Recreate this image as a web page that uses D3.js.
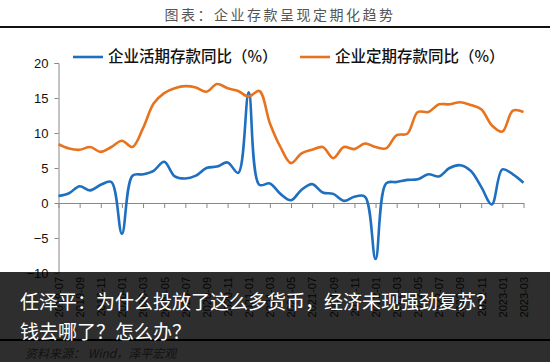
<!DOCTYPE html>
<html>
<head>
<meta charset="utf-8">
<script src="https://cdn.jsdelivr.net/npm/d3@7"></script>
<style>
  body { margin: 0; background: #fff; }
  svg { display: block; }
</style>
</head>
<body>
<svg id="chart" width="550" height="362"></svg>
<script>
// monthly, 2019-07 .. 2023-03
const months = d3.range(45).map(i => {
  const m = 6 + i; // 0-based month from 2019-01
  const y = 2019 + Math.floor(m / 12);
  return `${y}-${String((m % 12) + 1).padStart(2, "0")}`;
});

const demand = [1.0, 1.4, 2.4, 1.8, 2.6, 3.0, -4.4, 3.9, 4.1, 4.6,
  5.9, 3.8, 3.5, 3.9, 5.0, 5.2, 5.8, 4.3, 15.8, 2.6,
  2.8, 1.3, 0.4, 1.9, 2.7, 1.5, 1.3, 0.3, 0.9, 0.9,
  -8.0, 2.8, 3.0, 3.3, 3.4, 4.1, 3.8, 5.0, 5.4, 4.6,
  2.3, -0.2, 4.8, 4.1, 2.9];

const timeDep = [8.4, 7.8, 7.6, 8.0, 7.3, 8.0, 8.9, 8.0, 10.7, 14.2,
  15.7, 16.4, 16.7, 16.5, 15.9, 17.0, 16.4, 16.0, 15.2, 16.0,
  11.4, 8.0, 5.7, 7.1, 7.6, 8.0, 6.4, 8.0, 7.7, 8.5,
  8.0, 7.8, 9.7, 9.9, 13.0, 13.0, 14.1, 14.1, 14.4, 14.0,
  13.4, 11.1, 10.2, 13.2, 13.0];

const yTicks = [-10, -5, 0, 5, 10, 15, 20];
const seriesNames = ["企业活期存款同比（%）", "企业定期存款同比（%）"];
const colors = ["#1f6fc0", "#e8731e"];

const svg = d3.select("#chart");

const x = d3.scaleLinear().domain([0, months.length - 1]).range([58.5, 523.5]);
const y = d3.scaleLinear().domain([-10, 20]).range([273, 63]);

// title
svg.append("text")
  .attr("x", 280).attr("y", 20)
  .attr("text-anchor", "middle")
  .attr("font-family", "Noto Sans CJK SC")
  .attr("font-size", 14)
  .attr("letter-spacing", 2.5)
  .attr("fill", "#555")
  .text("图表：企业存款呈现定期化趋势");

svg.append("line")
  .attr("x1", 0).attr("x2", 550).attr("y1", 27).attr("y2", 27)
  .attr("stroke", "#111").attr("stroke-width", 2);

// y axis
const yAxis = svg.append("g")
  .attr("transform", `translate(${x(0)},0)`)
  .call(d3.axisLeft(y).tickValues(yTicks).tickSize(4).tickPadding(6));
yAxis.select(".domain").attr("stroke", "#888");
yAxis.selectAll(".tick line").attr("stroke", "#888");
yAxis.selectAll("text")
  .attr("font-family", "Liberation Sans, Arial")
  .attr("font-size", 13)
  .attr("fill", "#111");

// x axis at zero
const xAxis = svg.append("g")
  .attr("transform", `translate(0,${y(0)})`)
  .call(d3.axisBottom(x)
    .tickValues(d3.range(0, months.length, 2))
    .tickFormat(i => months[i])
    .tickSize(5)
    .tickSizeOuter(0));
xAxis.select(".domain").attr("stroke", "#888");
xAxis.selectAll(".tick line").attr("stroke", "#888");
xAxis.selectAll("text")
  .attr("font-family", "Liberation Sans, Arial")
  .attr("font-size", 11)
  .attr("fill", "#222")
  .attr("text-anchor", "end")
  .attr("transform", `translate(0,${y(-10) - y(0) + 4}) rotate(-90)`)
  .attr("x", 0).attr("y", 0).attr("dx", 0).attr("dy", "0.35em");

// lines
const line = d3.line()
  .x((d, i) => x(i))
  .y(d => y(d))
  .curve(d3.curveCatmullRom.alpha(0.5));

[demand, timeDep].forEach((s, k) => {
  svg.append("path")
    .datum(s)
    .attr("fill", "none")
    .attr("stroke", colors[k])
    .attr("stroke-width", 2.6)
    .attr("stroke-linejoin", "round")
    .attr("d", line);
});

// legend
const legendX = [73, 300];
seriesNames.forEach((name, k) => {
  const g = svg.append("g").attr("transform", `translate(${legendX[k]},57)`);
  g.append("line").attr("x1", 0).attr("x2", 30)
    .attr("stroke", colors[k]).attr("stroke-width", 2.6);
  g.append("text")
    .attr("x", 35).attr("dy", "0.35em")
    .attr("font-family", "Noto Sans CJK SC")
    .attr("font-size", 15.5)
    .attr("font-weight", 500)
    .attr("fill", "#111")
    .text(name);
});

// bottom rule and source
svg.append("line")
  .attr("x1", 0).attr("x2", 550).attr("y1", 340).attr("y2", 340)
  .attr("stroke", "#000").attr("stroke-width", 2);
svg.append("text")
  .attr("x", 25).attr("y", 358)
  .attr("font-family", "Noto Sans CJK SC")
  .attr("font-size", 12)
  .attr("font-style", "italic")
  .attr("fill", "#666")
  .text("资料来源： Wind，泽平宏观");

// dark caption overlay
svg.append("rect")
  .attr("x", 0).attr("y", 272).attr("width", 550).attr("height", 90)
  .attr("fill", "#000").attr("fill-opacity", 0.82);

const caption = ["任泽平：为什么投放了这么多货币，经济未现强劲复苏？", "钱去哪了？怎么办？"];
caption.forEach((t, k) => {
  svg.append("text")
    .attr("x", 20).attr("y", 309 + k * 30)
    .attr("font-family", "Noto Sans CJK SC")
    .attr("font-size", 19)
    .attr("fill", "#fff")
    .text(t);
});
</script>
</body>
</html>
